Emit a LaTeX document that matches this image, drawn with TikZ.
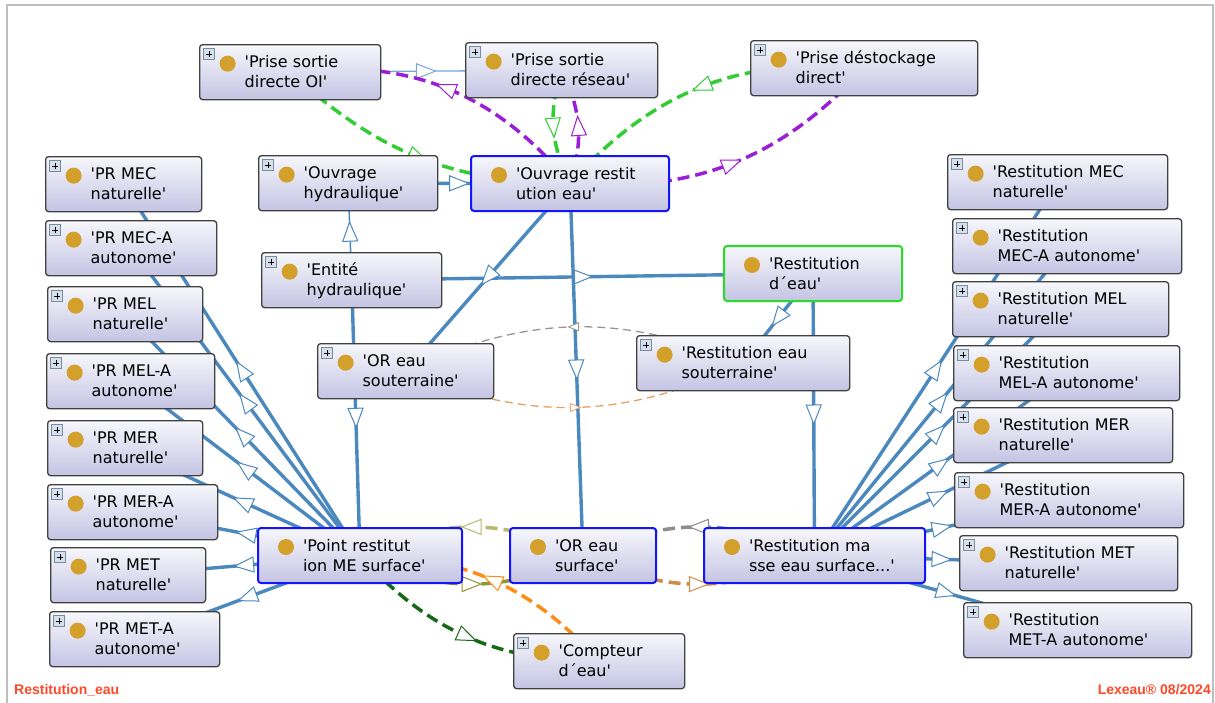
\documentclass[tikz,border=0pt]{standalone}
\usepackage{fontspec}
\newfontfamily\clsfont{DejaVu Sans}[Ligatures=TeXOff]
\newfontfamily\footfont{Liberation Sans}
\usetikzlibrary{decorations.markings,backgrounds}
\definecolor{boxtop}{RGB}{247,247,252}
\definecolor{boxbot}{RGB}{196,196,228}
\definecolor{boxgray}{RGB}{64,64,64}
\definecolor{focusblue}{RGB}{20,20,250}
\definecolor{pickgreen}{RGB}{40,220,40}
\definecolor{dotgold}{RGB}{212,160,44}
\definecolor{plusfill}{RGB}{214,224,236}
\definecolor{plusedge}{RGB}{120,140,160}
\definecolor{edgeblue}{RGB}{74,136,190}
\definecolor{linkblue}{RGB}{120,168,216}
\definecolor{oppurple}{RGB}{155,30,215}
\definecolor{opgreen}{RGB}{50,205,50}
\definecolor{opdkgreen}{RGB}{20,105,20}
\definecolor{oporange}{RGB}{255,140,20}
\definecolor{opgray}{RGB}{140,140,140}
\definecolor{opolive}{RGB}{184,184,110}
\definecolor{opolivedk}{RGB}{140,150,50}
\definecolor{optan}{RGB}{208,138,72}
\definecolor{thingray}{RGB}{150,150,150}
\definecolor{thinorange}{RGB}{232,160,96}
\definecolor{framegray}{RGB}{190,190,190}
\definecolor{footred}{RGB}{255,72,40}
\newcommand\ind{\hspace*{45pt}}
\newcommand\clsdot{\fill[dotgold] ([shift={(28pt,-19pt)}]path picture bounding box.north west) circle[radius=8pt];}
\newcommand\clsplus{%
  \draw[sharp corners,line width=0.6pt,draw=plusedge,fill=plusfill] ([shift={(4pt,-4pt)}]path picture bounding box.north west) rectangle ++(11pt,-11pt);
  \draw[draw=black,line width=1.1pt] ([shift={(6.5pt,-9.5pt)}]path picture bounding box.north west) -- ++(6pt,0pt)
    ([shift={(9.5pt,-6.5pt)}]path picture bounding box.north west) -- ++(0pt,-6pt);}
\tikzset{cls/.style={anchor=north west,draw=boxgray,line width=1.3pt,rounded corners=3pt,
           top color=boxtop,bottom color=boxbot,text width=#1pt,minimum height=55pt,
           inner xsep=0pt,inner ysep=0pt,text height=12pt,text depth=21pt,align=left,
           font=\clsfont\fontsize{16}{20}\selectfont,path picture={\clsplus\clsdot}},
         focus/.style={cls=#1,draw=focusblue,line width=2pt,path picture={\clsdot}},
         picked/.style={cls=#1,draw=pickgreen,line width=2pt,path picture={\clsdot}},
         tri/.style={postaction={decorate},decoration={markings,mark=at position 0.5 with
           {\draw[solid,line width=1pt,draw=#1,fill=white] (-9.5pt,-7.5pt) -- (9.5pt,0pt) -- (-9.5pt,7.5pt) -- cycle;}}},
         smalltri/.style={postaction={decorate},decoration={markings,mark=at position 0.5 with
           {\draw[solid,line width=0.8pt,draw=#1,fill=white] (-5pt,-4pt) -- (5pt,0pt) -- (-5pt,4pt) -- cycle;}}},
         isa/.style={draw=edgeblue,line width=3.4pt,tri=edgeblue},
         isathin/.style={draw=edgeblue,line width=1.5pt,tri=edgeblue},
         link/.style={draw=linkblue,line width=1.3pt,tri=linkblue},
         op/.style={draw=#1,line width=3.5pt,dash pattern=on 12pt off 6pt,tri=#1},
         opthin/.style={draw=#1,line width=1.3pt,dash pattern=on 8pt off 5pt,smalltri=#1},
         foot/.style={font=\footfont\bfseries\fontsize{14}{16}\selectfont,text=footred,inner sep=0pt}}

\begin{document}
\begin{tikzpicture}[x=1pt,y=-1pt]
\useasboundingbox (0,0) rectangle (1215,702);
\draw[framegray,line width=1.5pt] (7,5) rectangle (1213,730);
% top and middle
\node[cls=181] (psdoi) at (199,44) {\ind'Prise sortie\\\ind directe OI'};
\node[cls=192] (psdr) at (465,42) {\ind'Prise sortie\\\ind directe réseau'};
\node[cls=227] (pdd) at (750,40) {\ind'Prise déstockage\\\ind direct'};
\node[cls=179] (oh) at (258,155) {\ind'Ouvrage\\\ind hydraulique'};
\node[focus=198] (ore) at (470,155) {\ind'Ouvrage restit\\\ind ution eau'};
\node[cls=180] (eh) at (261,252) {\ind'Entité\\\ind hydraulique'};
\node[picked=178] (rde) at (723,245) {\ind'Restitution\\\ind d´eau'};
\node[cls=176] (ors) at (317,343) {\ind'OR eau\\\ind souterraine'};
\node[cls=213] (res) at (636,335) {\ind'Restitution eau\\\ind souterraine'};
\node[focus=204] (pmes) at (257,527) {\ind'Point restitut\\\ind ion ME surface'};
\node[focus=146] (orsf) at (509,527) {\ind'OR eau\\\ind surface'};
\node[focus=221] (rmes) at (703,527) {\ind'Restitution ma\\\ind sse eau surface...'};
\node[cls=171] (ce) at (513,633) {\ind'Compteur\\\ind d´eau'};
% left column
\node[cls=156] (prmecn) at (45,156) {\ind'PR MEC\\\ind naturelle'};
\node[cls=171] (prmeca) at (45,220) {\ind'PR MEC-A\\\ind autonome'};
\node[cls=155] (prmeln) at (47,286) {\ind'PR MEL\\\ind naturelle'};
\node[cls=168] (prmela) at (46,353) {\ind'PR MEL-A\\\ind autonome'};
\node[cls=155] (prmern) at (47,420) {\ind'PR MER\\\ind naturelle'};
\node[cls=170] (prmera) at (47,484) {\ind'PR MER-A\\\ind autonome'};
\node[cls=155] (prmetn) at (50,547) {\ind'PR MET\\\ind naturelle'};
\node[cls=170] (prmeta) at (49,611) {\ind'PR MET-A\\\ind autonome'};
% right column
\node[cls=220] (rmecn) at (947,154) {\ind'Restitution MEC\\\ind naturelle'};
\node[cls=229] (rmeca) at (952,218) {\ind'Restitution\\\ind MEC-A autonome'};
\node[cls=216] (rmeln) at (952,281) {\ind'Restitution MEL\\\ind naturelle'};
\node[cls=226] (rmela) at (953,345) {\ind'Restitution\\\ind MEL-A autonome'};
\node[cls=219] (rmern) at (953,407) {\ind'Restitution MER\\\ind naturelle'};
\node[cls=229] (rmera) at (954,472) {\ind'Restitution\\\ind MER-A autonome'};
\node[cls=218] (rmetn) at (959,535) {\ind'Restitution MET\\\ind naturelle'};
\node[cls=228] (rmeta) at (963,602) {\ind'Restitution\\\ind MET-A autonome'};
\node[foot,anchor=west] (diag) at (14,690) {Restitution\_eau};
\node[foot,anchor=east] (stamp) at (1211,690) {Lexeau® 08/2024};

\begin{scope}[on background layer]
\draw[isa] (oh.center) -- (ore.center);
\draw[isathin] (eh.center) -- (oh.center);
\draw[isa] (eh.center) -- (rde.center);
\draw[isa] (eh.center) -- (pmes.center);
\draw[isa] (ore.center) -- (ors.center);
\draw[isa] (ore.center) -- (orsf.center);
\draw[isa] (rde.center) -- (res.center);
\draw[isa] (rde.center) -- (rmes.center);
\foreach \n in {prmecn,prmeca,prmeln,prmela,prmern,prmera,prmetn,prmeta}
  \draw[isa] (pmes.center) -- (\n.center);
\foreach \n in {rmecn,rmeca,rmeln,rmela,rmern,rmera,rmetn,rmeta}
  \draw[isa] (rmes.center) -- (\n.center);
\draw[link] (psdoi.center) -- (psdr.center);
% object properties
\draw[op=oppurple] (ore.center) to[bend right=29] (psdoi.center);
\draw[op=opgreen] (psdoi.center) to[bend right=21] (ore.center);
\draw[op=opgreen] (psdr.center) to[bend right=22] (ore.center);
\draw[op=oppurple] (ore.center) to[bend right=22] (psdr.center);
\draw[op=opgreen] (pdd.center) to[bend right=27] (ore.center);
\draw[op=oppurple] (ore.center) to[bend right=26] (pdd.center);
\draw[opthin=thingray] (res.center) to[bend right=24] (ors.center);
\draw[opthin=thinorange] (ors.center) to[bend right=24] (res.center);
\draw[op=opolive] (orsf.center) to[bend right=26] (pmes.center);
\draw[op=opolivedk] (pmes.center) to[bend right=26] (orsf.center);
\draw[op=opgray] (rmes.center) to[bend right=25] (orsf.center);
\draw[op=optan] (orsf.center) to[bend right=25] (rmes.center);
\draw[op=oporange] (ce.center) to[bend right=24] (pmes.center);
\draw[op=opdkgreen] (pmes.center) to[bend right=24] (ce.center);
\end{scope}
\end{tikzpicture}
\end{document}
